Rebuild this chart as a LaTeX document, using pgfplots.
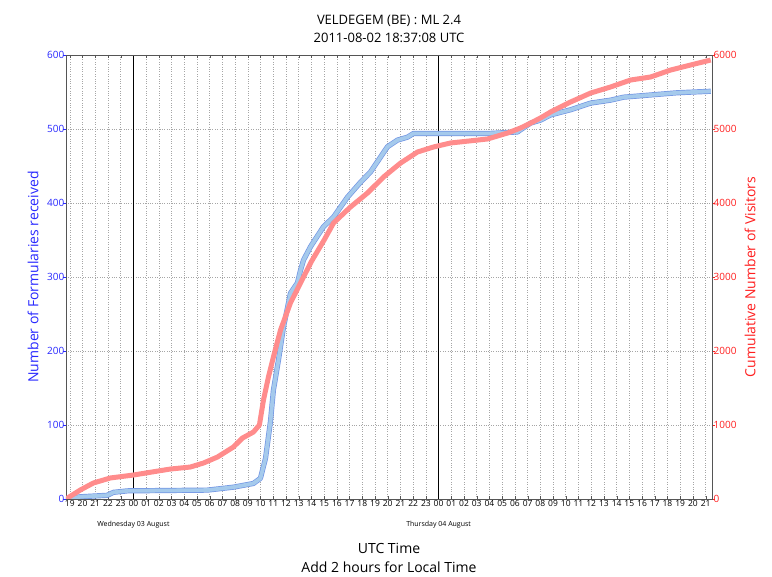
\documentclass[border=0pt]{standalone}
\usepackage{pgfplots}
\pgfplotsset{compat=1.18}
\usepackage{fontspec}
\setmainfont{Open Sans}

\definecolor{fblue}{RGB}{165,202,236}
\definecolor{fblueedge}{RGB}{115,150,228}
\definecolor{vred}{RGB}{255,140,140}
\definecolor{tblue}{RGB}{40,40,255}
\definecolor{tred}{RGB}{255,30,30}
\definecolor{frame}{RGB}{85,85,85}

% formularies received (left axis), hours from 2011-08-03 00:00 UTC
\pgfplotstableread{
t v
-5.3 0
-4.17 3
-2.05 5
-1.57 9
-0.47 11
5.82 12
7.87 16
9.44 21
9.99 28
10.39 55
10.78 105
11.01 147
11.41 188
11.80 232
12.35 278
12.90 292
13.14 309
13.38 323
13.93 341
14.95 368
15.74 381
16.84 408
17.86 428
18.65 442
19.43 462
19.98 476
20.77 485
21.56 489
22.03 494
24.94 494
28.00 494
30.21 496
30.45 499
31.24 508
32.02 512
32.81 519
34.38 526
35.96 535
37.53 539
38.55 543
40.68 546
42.80 549
45.40 551
}\formtab

% cumulative visitors (right axis)
\pgfplotstableread{
t v
-5.3 0
-4.17 122
-3.15 216
-1.81 284
0 324
2.91 405
4.48 432
5.51 486
6.61 567
7.87 703
8.42 797
8.58 824
9.44 905
9.91 1000
10.23 1338
10.62 1649
11.01 1919
11.57 2284
12.35 2649
13.14 2919
14.00 3210
15.00 3500
15.74 3730
17.07 3946
18.41 4135
19.67 4351
21.01 4540
22.34 4689
23.60 4757
24.94 4811
27.85 4865
29.43 4946
30.45 5014
31.24 5080
32.02 5150
32.81 5230
34.38 5365
35.96 5486
37.53 5568
39.10 5662
40.68 5703
42.25 5797
43.82 5865
45.40 5932
}\vistab

\pgfplotsset{
  common/.style={
    scale only axis,
    width=646pt, height=444pt,
    at={(0,0)}, anchor=south west,
    xmin=-5.3, xmax=45.5,
    axis line style={frame, line width=0.9pt},
    major tick length=3pt,
    clip mode=individual,
  }
}

\begin{document}
\begin{tikzpicture}
\begin{axis}[
  common,
  name=main,
  ymin=0, ymax=600,
  ytick={0,100,...,600},
  ytick pos=left,
  xtick={-5,...,45},
  xtick pos=both,
  xticklabels={19,20,21,22,23,00,01,02,03,04,05,06,07,08,09,10,11,12,13,14,15,16,17,18,19,20,21,22,23,00,01,02,03,04,05,06,07,08,09,10,11,12,13,14,15,16,17,18,19,20,21,22,23,00,01,02,03,04,05,06,07,08,09,10,11,12,13,14,15,16,17,18,19,20,21},
  xticklabel style={font=\fontsize{8.5}{10}\selectfont, inner sep=1.5pt},
  yticklabel style={font=\fontsize{10}{12}\selectfont, text=tblue, inner sep=1.5pt},
  ytick style={xshift=-3pt, draw=tblue},
  xtick style={draw=frame},
  /pgf/number format/assume math mode=true,
  grid=major,
  major grid style={gray!70, dotted, line width=0.6pt},
  title={VELDEGEM (BE) : ML 2.4\\2011-08-02 18:37:08 UTC},
  title style={align=center, font=\fontsize{13}{18}\selectfont, at={(0.5,1)}, anchor=south, yshift=3pt},
  xlabel={UTC Time\\Add 2 hours for Local Time},
  xlabel style={align=center, font=\fontsize{14}{19}\selectfont, at={(0.5,0)}, anchor=north, yshift=-44pt, inner sep=0pt},
  ylabel={Number of Formularies received},
  ylabel style={font=\fontsize{14}{16}\selectfont, text=tblue, at={(0,0.5)}, anchor=center, yshift=33pt},
]
\draw[black, line width=0.8pt] (axis cs:0,0) -- (axis cs:0,600);
\draw[black, line width=0.8pt] (axis cs:24,0) -- (axis cs:24,600);
\addplot[fblueedge, line width=5.2pt, line join=round] table[x=t, y=v] {\formtab};
\addplot[fblue, line width=3.8pt, line join=round] table[x=t, y=v] {\formtab};
\node[font=\fontsize{7}{8}\selectfont, anchor=north] at (axis cs:0,0) [yshift=-19pt] {Wednesday 03 August};
\node[font=\fontsize{7}{8}\selectfont, anchor=north] at (axis cs:24,0) [yshift=-19pt] {Thursday 04 August};
\end{axis}
\begin{axis}[
  common,
  ymin=0, ymax=6000,
  ytick={0,1000,...,6000},
  ytick pos=right,
  xtick=\empty,
  yticklabel style={font=\fontsize{10}{12}\selectfont, text=tred, inner sep=1.5pt},
  ytick style={xshift=3pt, draw=tred},
  /pgf/number format/assume math mode=true,
  scaled y ticks=false,
  yticklabel={\pgfmathprintnumber[fixed, 1000 sep={}]{\tick}},
  ylabel={Cumulative Number of Visitors},
  ylabel style={font=\fontsize{14}{16}\selectfont, text=tred, at={(1,0.5)}, anchor=center, yshift=-38pt},
]
\addplot[vred, line width=5pt, line join=round] table[x=t, y=v] {\vistab};
\end{axis}
\pgfresetboundingbox
\path (-66pt,-78pt) rectangle (706pt,499pt);
\end{tikzpicture}
\end{document}
